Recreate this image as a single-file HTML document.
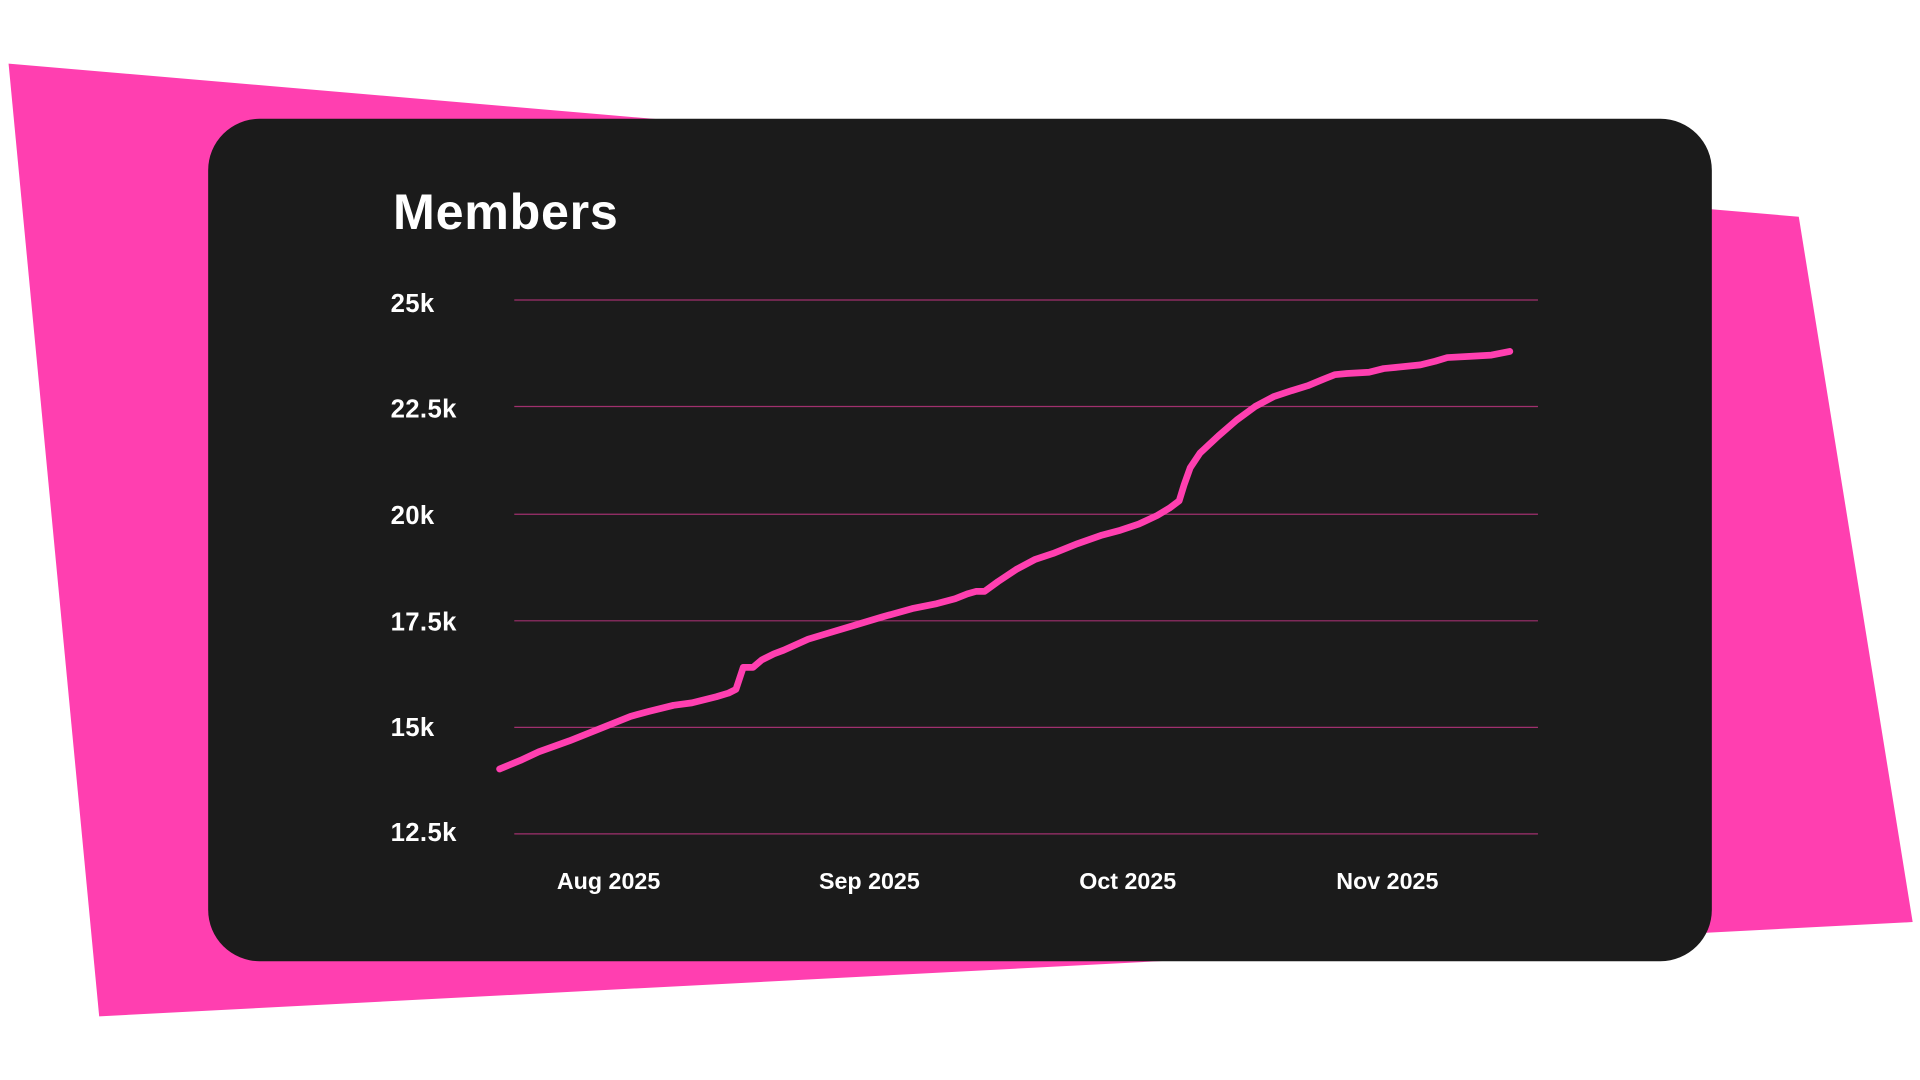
<!DOCTYPE html>
<html><head><meta charset="utf-8"><style>
html,body{margin:0;padding:0;background:#fff;width:1920px;height:1080px;overflow:hidden}
svg{display:block}
text{font-family:"Liberation Sans",sans-serif;font-weight:bold;fill:#fff}
</style></head><body>
<svg width="1920" height="1080" viewBox="0 0 1568 882" xmlns="http://www.w3.org/2000/svg">
<rect width="1568" height="882" fill="#fff"/>
<polygon points="7,52 1469,177 1562,753 81,830" fill="#ff3fb0"/>
<rect x="170" y="97" width="1228" height="688" rx="42" fill="#1b1b1b"/>
<text x="321" y="187" font-size="41" letter-spacing="0.6">Members</text>
<g stroke="#a0306e" stroke-width="1">
<line x1="420" x2="1256" y1="245" y2="245"/>
<line x1="420" x2="1256" y1="332" y2="332"/>
<line x1="420" x2="1256" y1="420" y2="420"/>
<line x1="420" x2="1256" y1="507" y2="507"/>
<line x1="420" x2="1256" y1="594" y2="594"/>
<line x1="420" x2="1256" y1="681" y2="681"/>
</g>
<g font-size="21" letter-spacing="0.3">
<text x="319" y="255">25k</text>
<text x="319" y="341">22.5k</text>
<text x="319" y="428">20k</text>
<text x="319" y="515">17.5k</text>
<text x="319" y="601">15k</text>
<text x="319" y="687">12.5k</text>
</g>
<g font-size="19" text-anchor="middle">
<text x="497" y="726">Aug 2025</text>
<text x="710" y="726">Sep 2025</text>
<text x="921" y="726">Oct 2025</text>
<text x="1133" y="726">Nov 2025</text>
</g>
<polyline fill="none" stroke="#ff3fb0" stroke-width="5.5" stroke-linecap="round" stroke-linejoin="round" points="408,628 425,621 440,614 465,605 490,595 515,585 530,581 550,576 565,574 585,569 595,566 601,563 607,545 615,545 622,539 632,534 640,531 660,522 680,516 700,510 720,504 745,497 765,493 780,489 790,485 797,483 804,483 815,475 830,465 845,457 860,452 880,444 900,437 915,433 930,428 945,421 955,415 963,409 967,396 972,382 980,370 995,356 1010,343 1025,332 1040,324 1055,319 1068,315 1080,310 1090,306 1100,305 1118,304 1130,301 1140,300 1160,298 1172,295 1182,292 1200,291 1218,290 1233,287"/>
</svg>
</body></html>
